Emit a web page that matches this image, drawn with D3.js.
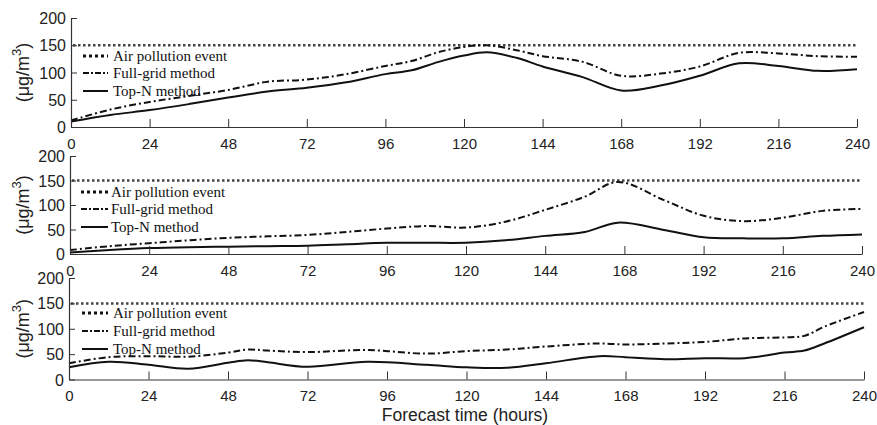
<!DOCTYPE html>
<html><head><meta charset="utf-8">
<script src="https://cdn.jsdelivr.net/npm/d3@7"></script>
<style>body{margin:0;background:#fff}svg{display:block}</style>
</head><body>
<svg id="c" width="877" height="425"></svg>
<script>
const xTicks = [0,24,48,72,96,120,144,168,192,216,240];
const yTicks = [0,50,100,150,200];
const threshold = 150;
const legendLabels = ["Air pollution event","Full-grid method","Top-N method"];
const xLabel = "Forecast time (hours)";
const yLabelMain = "(\u03bcg/m";
const yLabelSup = "3";
const yLabelEnd = ")";

// panel 1
const p1Hours = [0,12,24,36,48,60,72,84,96,104,112,120,127,136,144,156,168,180,192,204,216,228,240];
const p1Full  = [12,32,46,57,68,83,87,97,112,121,137,147,150,141,130,120,94,98,111,136,135,130,129];
const p1TopN  = [10,22,31,42,54,65,72,82,97,104,119,131,137,127,111,92,67,76,94,117,112,103,106];
// panel 2
const p2Hours = [0,12,24,36,48,60,72,84,96,108,120,132,144,156,166,180,192,204,216,228,240];
const p2Full  = [8,16,22,28,33,36,39,45,52,57,54,66,90,117,147,110,78,67,74,88,92];
const p2TopN  = [3,8,12,14,15,16,17,20,23,23,23,28,37,45,64,49,34,32,32,37,40];
// panel 3
const p3Hours = [0,12,24,36,48,54,60,72,90,108,120,132,144,160,168,180,192,204,216,222,228,240];
const p3Full  = [32,44,46,45,53,59,57,54,58,51,56,59,65,71,69,71,74,81,83,86,104,133];
const p3TopN  = [24,35,29,21,33,38,34,25,35,29,24,23,32,46,44,40,42,42,53,57,71,103];

const panels = [
  {hours:p1Hours, full:p1Full, top:p1TopN, x0:71, x1:857, y0:127, y1:18, leg:[56,73,91], legX:[83,108,113]},
  {hours:p2Hours, full:p2Full, top:p2TopN, x0:70, x1:862, y0:254, y1:156, leg:[192,209,227], legX:[81,108,111]},
  {hours:p3Hours, full:p3Full, top:p3TopN, x0:69, x1:864, y0:379.5, y1:278, leg:[313,331,349], legX:[82,108,113]}
];

const svg = d3.select("#c");
const axisColor = "#333";
const sans = "Liberation Sans, Arial, sans-serif";

panels.forEach(p => {
  const x = d3.scaleLinear().domain([0,240]).range([p.x0,p.x1]);
  const y = d3.scaleLinear().domain([0,200]).range([p.y0,p.y1]);
  const g = svg.append("g");

  g.append("line").attr("x1",x(0)+2).attr("x2",x(240)).attr("y1",y(threshold)).attr("y2",y(threshold))
    .attr("stroke","#444").attr("stroke-width",2.5).attr("stroke-dasharray","2.5,2.5");

  const line = d3.line().x((d,i)=>x(p.hours[i])).y(d=>y(d)).curve(d3.curveCatmullRom.alpha(0.5));
  g.append("path").attr("d",line(p.full)).attr("fill","none").attr("stroke","#111")
    .attr("stroke-width",2).attr("stroke-dasharray","7,3,2,3");
  g.append("path").attr("d",line(p.top)).attr("fill","none").attr("stroke","#111")
    .attr("stroke-width",2);

  const xa = g.append("g").attr("transform",`translate(0,${p.y0})`)
    .call(d3.axisBottom(x).tickValues(xTicks).tickSizeInner(-8).tickSizeOuter(0).tickPadding(11));
  const ya = g.append("g").attr("transform",`translate(${p.x0},0)`)
    .call(d3.axisLeft(y).tickValues(yTicks).tickSizeInner(-6).tickSizeOuter(0).tickPadding(5));
  [xa,ya].forEach(a=>{
    a.select(".domain").attr("stroke",axisColor).attr("stroke-width",1.2);
    a.selectAll(".tick line").attr("stroke",axisColor).attr("stroke-width",1);
    a.selectAll("text").attr("fill","#222").attr("font-family",sans);
  });
  xa.selectAll("text").attr("font-size",15);
  ya.selectAll("text").attr("font-size",16).attr("dy","0.35em");

  const yl = g.append("text").attr("transform",`translate(${29},${(p.y0+p.y1)/2}) rotate(-90)`)
    .attr("text-anchor","middle").attr("font-family",sans)
    .attr("font-size",18).attr("fill","#222");
  yl.append("tspan").text(yLabelMain);
  yl.append("tspan").attr("font-size",13).attr("dy","-0.6em").text(yLabelSup);
  yl.append("tspan").attr("dy","0.45em").text(yLabelEnd);

  const styles = [
    {dash:"3,3", w:3, c:"#111"},
    {dash:"6,2,2,2", w:2, c:"#111"},
    {dash:null, w:2, c:"#111"}
  ];
  legendLabels.forEach((lab,i)=>{
    const ln = g.append("line").attr("x1",p.legX[0]).attr("x2",p.legX[1])
      .attr("y1",p.leg[i]).attr("y2",p.leg[i]).attr("stroke",styles[i].c).attr("stroke-width",styles[i].w);
    if(styles[i].dash) ln.attr("stroke-dasharray",styles[i].dash);
    g.append("text").attr("x",p.legX[2]).attr("y",p.leg[i]).attr("dy","0.33em")
      .attr("font-family","Liberation Serif, Times New Roman, serif").attr("font-size",15)
      .attr("fill","#111").text(lab);
  });
});

svg.append("text").attr("x",465).attr("y",421).attr("text-anchor","middle")
  .attr("font-family",sans).attr("font-size",17.5).attr("fill","#222")
  .text(xLabel);
</script>
</body></html>
